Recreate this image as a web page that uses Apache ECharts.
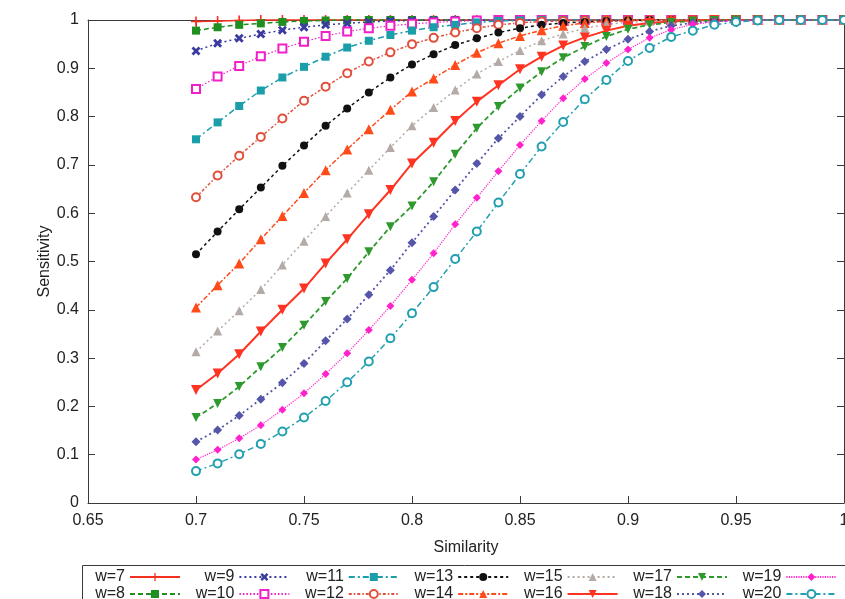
<!DOCTYPE html>
<html>
<head>
<meta charset="utf-8">
<script src="https://cdn.jsdelivr.net/npm/echarts@6/dist/echarts.min.js"></script>
<style>
html,body{margin:0;padding:0;background:#fff;}
#chart{width:845px;height:599px;}
</style>
</head>
<body>
<div id="chart"></div>
<script>
// ---- data ----
const similarity = [0.70,0.71,0.72,0.73,0.74,0.75,0.76,0.77,0.78,0.79,0.80,0.81,0.82,0.83,0.84,0.85,0.86,0.87,0.88,0.89,0.90,0.91,0.92,0.93,0.94,0.95,0.96,0.97,0.98,0.99,1.00];
const w7  = [0.997,0.998,0.999,1,1,1,1,1,1,1, 1,1,1,1,1,1,1,1,1,1, 1,1,1,1,1,1,1,1,1,1,1];
const w8  = [0.978,0.985,0.990,0.993,0.996,0.998,0.999,1,1,1, 1,1,1,1,1,1,1,1,1,1, 1,1,1,1,1,1,1,1,1,1,1];
const w9  = [0.936,0.952,0.962,0.971,0.979,0.985,0.990,0.993,0.996,0.998, 0.999,1,1,1,1,1,1,1,1,1, 1,1,1,1,1,1,1,1,1,1,1];
const w10 = [0.857,0.883,0.905,0.925,0.941,0.955,0.967,0.976,0.983,0.988, 0.992,0.995,0.997,0.999,1,1,1,1,1,1, 1,1,1,1,1,1,1,1,1,1,1];
const w11 = [0.753,0.788,0.822,0.854,0.881,0.903,0.924,0.943,0.957,0.969, 0.978,0.985,0.990,0.995,0.998,0.999,1,1,1,1, 1,1,1,1,1,1,1,1,1,1,1];
const w12 = [0.633,0.678,0.719,0.758,0.796,0.833,0.862,0.890,0.914,0.933, 0.950,0.963,0.974,0.983,0.990,0.994,0.997,0.998,0.999,1, 1,1,1,1,1,1,1,1,1,1,1];
const w13 = [0.515,0.562,0.608,0.653,0.698,0.740,0.781,0.817,0.850,0.881, 0.908,0.929,0.948,0.962,0.974,0.983,0.990,0.994,0.996,0.998, 0.999,1,1,1,1,1,1,1,1,1,1];
const w14 = [0.405,0.451,0.496,0.546,0.594,0.642,0.689,0.732,0.774,0.814, 0.852,0.879,0.907,0.932,0.952,0.967,0.979,0.988,0.994,0.997, 0.999,1,1,1,1,1,1,1,1,1,1];
const w15 = [0.313,0.356,0.398,0.442,0.493,0.542,0.593,0.642,0.689,0.736, 0.781,0.819,0.855,0.888,0.914,0.937,0.957,0.971,0.983,0.991, 0.995,0.998,0.999,1,1,1,1,1,1,1,1];
const w16 = [0.234,0.268,0.308,0.355,0.400,0.444,0.496,0.546,0.598,0.648, 0.703,0.746,0.791,0.831,0.865,0.898,0.924,0.947,0.964,0.978, 0.988,0.994,0.997,0.999,1,1,1,1,1,1,1];
const w17 = [0.177,0.206,0.241,0.282,0.322,0.368,0.417,0.465,0.520,0.572, 0.615,0.665,0.722,0.776,0.821,0.859,0.893,0.922,0.945,0.966, 0.981,0.990,0.995,0.998,0.999,1,1,1,1,1,1];
const w18 = [0.127,0.151,0.181,0.215,0.249,0.289,0.336,0.381,0.431,0.482, 0.539,0.593,0.648,0.703,0.755,0.800,0.845,0.883,0.914,0.939, 0.960,0.976,0.988,0.994,0.997,0.999,1,1,1,1,1];
const w19 = [0.090,0.110,0.134,0.161,0.193,0.227,0.267,0.310,0.358,0.408, 0.462,0.517,0.577,0.632,0.687,0.741,0.791,0.838,0.878,0.911, 0.939,0.963,0.980,0.991,0.996,0.999,1,1,1,1,1];
const w20 = [0.066,0.082,0.101,0.122,0.148,0.177,0.211,0.250,0.293,0.341, 0.393,0.447,0.505,0.562,0.622,0.681,0.738,0.789,0.836,0.876, 0.915,0.942,0.965,0.978,0.990,0.996,0.999,1,1,1,1];
const seriesNames = ['w=7','w=8','w=9','w=10','w=11','w=12','w=13','w=14','w=15','w=16','w=17','w=18','w=19','w=20'];
const seriesValues = [w7,w8,w9,w10,w11,w12,w13,w14,w15,w16,w17,w18,w19,w20];
const xTicks = {min:0.65, max:1.0, interval:0.05};
const yTicks = {min:0, max:1, interval:0.1};

// ---- styles ----
const PLUS = 'path://M4.2,0H5.8V4.2H10V5.8H5.8V10H4.2V5.8H0V4.2H4.2Z';
const CROSS = 'path://M0,2.2L2.2,0L5,2.8L7.8,0L10,2.2L7.2,5L10,7.8L7.8,10L5,7.2L2.2,10L0,7.8L2.8,5Z';
const TRI_DOWN = 'path://M0,0L10,0L5,9Z';
const styles = [
  {c:'#f5301e', dash:'solid',        sym:PLUS,          sz:10, w:1.6},
  {c:'#1f8f1f', dash:[5,3],          sym:'rect',        sz:8,  w:1.5},
  {c:'#3a3aa0', dash:[2,3],          sym:CROSS,         sz:9,  w:1.5},
  {c:'#f020c8', dash:[1.5,2],        sym:'emptyRect',   sz:8,  w:1.2},
  {c:'#1a9eaa', dash:[6,3,2,3],      sym:'rect',        sz:8,  w:1.5},
  {c:'#e0503c', dash:[3,2,1.5,2],    sym:'emptyCircle', sz:8,  w:1.5},
  {c:'#111111', dash:[3,3],          sym:'circle',      sz:8,  w:1.5},
  {c:'#ff4a1a', dash:[5,2,2,2],      sym:'triangle',    sz:10, w:1.5},
  {c:'#b4aaa6', dash:[2,3],          sym:'triangle',    sz:9,  w:1.5},
  {c:'#ff3322', dash:'solid',        sym:TRI_DOWN,      sz:10, w:2},
  {c:'#2e9a2e', dash:[5,3],          sym:TRI_DOWN,      sz:9,  w:1.8},
  {c:'#5555aa', dash:[2,3],          sym:'diamond',     sz:9,  w:1.8},
  {c:'#ff22cc', dash:[1.2,1.2],      sym:'diamond',     sz:8,  w:1.2},
  {c:'#22a0b0', dash:[6,3,2,3],      sym:'emptyCircle', sz:8,  w:1.5}
];

const font = '"Liberation Sans", Arial, sans-serif';
const series = seriesNames.map((name, i) => {
  const s = styles[i];
  return {
    name: name,
    type: 'line',
    xAxisIndex: 0, yAxisIndex: 0,
    data: similarity.map((x, k) => [x, seriesValues[i][k]]),
    symbol: s.sym,
    symbolSize: s.sz,
    showAllSymbol: true,
    clip: false,
    lineStyle: {color: s.c, width: s.w, type: s.dash},
    itemStyle: {color: s.c, borderColor: s.c, borderWidth: s.sym.indexOf('empty') === 0 ? 1.5 : 0},
    emphasis: {disabled: true}
  };
});

// legends: two rows, gnuplot-like column order
const cnv = document.createElement('canvas').getContext('2d');
cnv.font = '16px ' + font;
const legends = seriesNames.map((name, i) => {
  const col = Math.floor(i / 2), row = i % 2;
  const iconStart = 130 + col * 109.4;
  const tw = cnv.measureText(name).width;
  return {
    data: [name],
    left: iconStart - 5 - tw,
    top: row === 0 ? 569 : 586,
    align: 'right',
    orient: 'horizontal',
    padding: 0,
    itemGap: 0,
    itemWidth: 50,
    itemHeight: 10,
    selectedMode: false,
    textStyle: {fontSize: 16, color: '#222', fontFamily: font}
  };
});

const axisColor = '#3a3a3a';
const labelStyle = {fontSize: 16, color: '#222', fontFamily: font};
const option = {
  animation: false,
  backgroundColor: '#ffffff',
  textStyle: {fontFamily: font},
  grid: {left: 88, right: 1, top: 20, bottom: 96, containLabel: false, outerBoundsMode: 'none'},
  xAxis: [
    {type: 'value', position: 'bottom', min: xTicks.min, max: xTicks.max, interval: xTicks.interval,
     name: 'Similarity', nameLocation: 'middle', nameGap: 37,
     nameTextStyle: {fontSize: 16, color: '#222', fontFamily: font},
     axisLine: {show: true, onZero: false, lineStyle: {color: axisColor, width: 1}},
     axisTick: {show: true, inside: true, length: 7, lineStyle: {color: axisColor}},
     axisLabel: Object.assign({margin: 10}, labelStyle),
     splitLine: {show: false}},
    {type: 'value', position: 'top', min: xTicks.min, max: xTicks.max, interval: xTicks.interval,
     axisLine: {show: true, onZero: false, lineStyle: {color: axisColor, width: 1}},
     axisTick: {show: true, inside: true, length: 7, lineStyle: {color: axisColor}},
     axisLabel: {show: false}, splitLine: {show: false}}
  ],
  yAxis: [
    {type: 'value', position: 'left', min: yTicks.min, max: yTicks.max, interval: yTicks.interval,
     name: 'Sensitivity', nameLocation: 'middle', nameGap: 35, nameMoveOverlap: false,
     nameTextStyle: {fontSize: 16, color: '#222', fontFamily: font},
     axisLine: {show: true, onZero: false, lineStyle: {color: axisColor, width: 1}},
     axisTick: {show: true, inside: true, length: 7, lineStyle: {color: axisColor}},
     axisLabel: Object.assign({margin: 9}, labelStyle),
     splitLine: {show: false}},
    {type: 'value', position: 'right', min: yTicks.min, max: yTicks.max, interval: yTicks.interval,
     axisLine: {show: true, onZero: false, lineStyle: {color: axisColor, width: 1}},
     axisTick: {show: true, inside: true, length: 7, lineStyle: {color: axisColor}},
     axisLabel: {show: false}, splitLine: {show: false}}
  ],
  legend: legends,
  graphic: [{
    type: 'rect', left: 80, top: 563, silent: true,
    shape: {width: 800, height: 60},
    style: {fill: 'none', stroke: axisColor, lineWidth: 1}
  }],
  series: series
};

const chart = echarts.init(document.getElementById('chart'), null, {renderer: 'canvas'});
chart.setOption(option);
</script>
</body>
</html>
